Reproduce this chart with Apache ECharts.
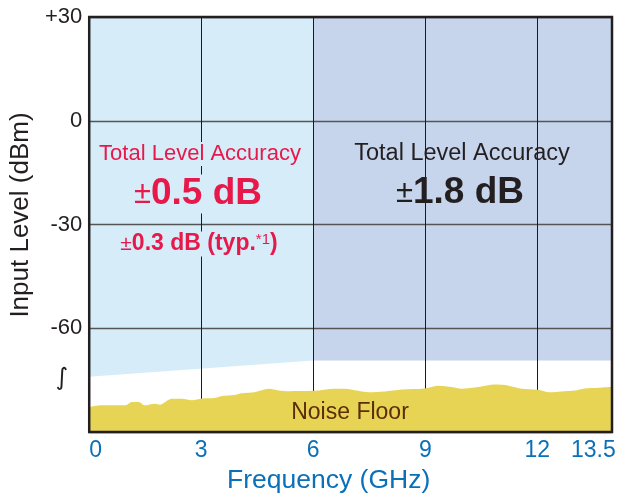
<!DOCTYPE html>
<html><head><meta charset="utf-8">
<script src="https://cdn.jsdelivr.net/npm/echarts@6/dist/echarts.min.js"></script>
<style>html,body{margin:0;padding:0;background:#fff}#c{width:625px;height:500px}</style>
</head><body><div id="c"></div>
<script>
// ---- data ----
var xTickLabels = [0, 3, 6, 9, 12, 13.5];
var yTicks = [-90, -60, -30, 0, 30];
var lightFreq = [0, 6];
var lightLower = [-74, -69.3];
var darkFreq = [6, 14];
var darkLower = [-69.3, -69.3];
var noiseFreq = [0,0.34,0.96,1.14,1.33,1.49,1.76,1.89,2.21,2.48,2.75,3.02,3.36,3.55,3.9,4.09,4.43,4.81,5.08,5.34,6.01,6.57,6.84,7.11,7.49,7.91,8.37,8.98,9.36,9.71,9.97,10.43,10.86,11.23,11.58,12.01,12.3,12.73,13.0,13.26,13.64,14];
var noiseLevel = [-82.8,-82.3,-82.3,-81.3,-81.3,-82.3,-81.8,-82.1,-80.4,-80.4,-80.8,-80.3,-80.2,-79.6,-79.3,-78.8,-78.5,-77.5,-78.0,-78.2,-78.1,-77.5,-77.5,-77.9,-78.5,-78.3,-77.7,-77.4,-76.6,-77.0,-77.5,-77.0,-76.3,-76.6,-77.5,-77.8,-78.5,-78.2,-78.0,-77.4,-77.2,-76.9];

function zip(a, b) { return a.map(function (v, i) { return [v, b[i]]; }); }

var FONT = '"Liberation Sans", Arial, Helvetica, sans-serif';
var RED = '#e6194a', DARK = '#231f20', BLUE = '#0a70b8';

var chart = echarts.init(document.getElementById('c'), null, {renderer: 'canvas'});
chart.setOption({
  animation: false,
  grid: {left: 87, right: 13, top: 17, bottom: 68, show: true, z: 10,
         backgroundColor: 'transparent', borderColor: DARK, borderWidth: 2.5},
  xAxis: {
    type: 'value', min: 0, max: 14, interval: 3, z: 3,
    axisLine: {show: false}, axisTick: {show: false},
    axisLabel: {customValues: xTickLabels, color: BLUE, fontSize: 23, fontFamily: FONT, margin: 7,
                alignMinLabel: 'left', formatter: function (v) { return String(v); }},
    splitLine: {show: true, lineStyle: {color: '#1a1a1a', width: 1}},
    name: 'Frequency (GHz)', nameLocation: 'middle', nameGap: 35,
    nameTextStyle: {color: BLUE, fontSize: 26.5, fontFamily: FONT, padding: [0, 44, 0, 0]}
  },
  yAxis: {
    type: 'value', min: -90, max: 30, interval: 30, z: 3,
    axisLine: {show: false}, axisTick: {show: false},
    axisLabel: {color: DARK, fontSize: 22, fontFamily: FONT, margin: 7,
                formatter: function (v) { return v === -90 ? '' : (v > 0 ? '+' + v : String(v)); }},
    splitLine: {show: true, lineStyle: {color: '#555', width: 1.3}},
    name: 'Input Level (dBm)', nameLocation: 'middle', nameGap: 39, nameRotate: 90,
    nameTextStyle: {color: DARK, fontSize: 26, fontFamily: FONT, padding: [0, 0, 0, 19]}
  },
  series: [
    {type: 'line', z: 1, data: zip(lightFreq, lightLower), symbol: 'none',
     lineStyle: {width: 0}, areaStyle: {color: '#d6ecf9', opacity: 1, origin: 'end'}},
    {type: 'line', z: 1, data: zip(darkFreq, darkLower), symbol: 'none',
     lineStyle: {width: 0}, areaStyle: {color: '#c6d4ec', opacity: 1, origin: 'end'}},
    {type: 'line', z: 5, data: zip(noiseFreq, noiseLevel), symbol: 'none', smooth: 0.3,
     lineStyle: {width: 0}, areaStyle: {color: '#e7d454', opacity: 1, origin: 'start'}}
  ],
  graphic: [
    {type: 'text', z: 20, x: 200, y: 154, style: {text: 'Total Level Accuracy', fill: RED,
      font: '22px ' + FONT, align: 'center', verticalAlign: 'middle',
      backgroundColor: '#d6ecf9', padding: [1, 2]}},
    {type: 'text', z: 20, x: 198, y: 194, style: {
      text: '{pm|±}{b|0.5 dB}', align: 'center', verticalAlign: 'middle',
      backgroundColor: '#d6ecf9', padding: [1, 2],
      rich: {pm: {fill: RED, font: '31px ' + FONT}, b: {fill: RED, font: 'bold 37px ' + FONT}}}},
    {type: 'text', z: 20, x: 199, y: 244, style: {
      text: '{pm|±}{b|0.3 dB (typ.}{s|*1}{b|)}', align: 'center', verticalAlign: 'middle',
      backgroundColor: '#d6ecf9', padding: [1, 2],
      rich: {pm: {fill: RED, font: '21px ' + FONT}, b: {fill: RED, font: 'bold 23px ' + FONT},
             s: {fill: RED, font: '15px ' + FONT, verticalAlign: 'top'}}}},
    {type: 'text', z: 20, x: 462, y: 154, style: {text: 'Total Level Accuracy', fill: DARK,
      font: '23.5px ' + FONT, align: 'center', verticalAlign: 'middle'}},
    {type: 'text', z: 20, x: 460, y: 193, style: {
      text: '{pm|±}{b|1.8 dB}', align: 'center', verticalAlign: 'middle',
      rich: {pm: {fill: DARK, font: '31px ' + FONT}, b: {fill: DARK, font: 'bold 37px ' + FONT}}}},
    {type: 'text', z: 20, x: 350, y: 413, style: {text: 'Noise Floor', fill: '#5c2d0a',
      font: '23px ' + FONT, align: 'center', verticalAlign: 'middle'}},
    {type: 'text', z: 20, x: 62, y: 379, style: {text: '∫', fill: DARK,
      font: '24px "DejaVu Sans", sans-serif', align: 'center', verticalAlign: 'middle'}}
  ]
});
</script></body></html>
